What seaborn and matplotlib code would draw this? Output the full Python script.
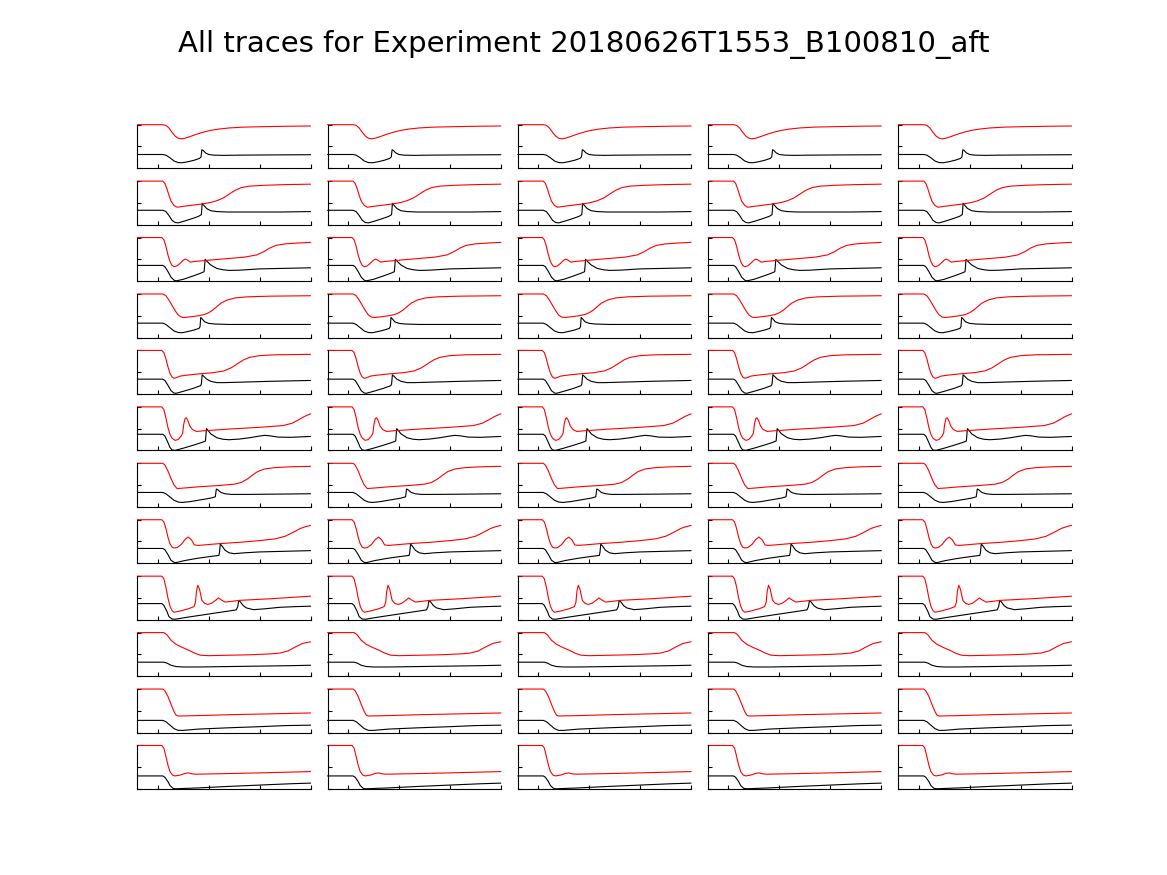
import matplotlib
matplotlib.use("Agg")
import matplotlib.pyplot as plt
import numpy as np
import pandas as pd
import seaborn as sns

sns.set_style("ticks")
plt.rcParams['font.family'] = ['DejaVu Sans']
plt.rcParams['text.color'] = 'black'

TITLE = "All traces for Experiment 20180626T1553_B100810_aft"
N_COLS = 5
X_TICKS = [0.2, 0.7, 1.2, 1.7]
Y_TICKS = [0, 1, 2]

# (time, value) keypoints, one list per row and trace
ROW1_RED = [(0,2),(0.25,2),(0.28,1.97),(0.31,1.85),(0.34,1.65),(0.37,1.48),(0.40,1.38),(0.43,1.35),(0.47,1.38),(0.52,1.46),(0.58,1.56),(0.65,1.66),(0.72,1.74),(0.80,1.80),(0.9,1.85),(1.05,1.89),(1.25,1.91),(1.5,1.93),(1.7,1.94)]
ROW1_BLACK = [(0,0.63),(0.25,0.63),(0.28,0.6),(0.32,0.48),(0.36,0.33),(0.40,0.26),(0.44,0.25),(0.50,0.3),(0.56,0.37),(0.61,0.45),(0.625,0.52),(0.633,0.85),(0.645,0.82),(0.67,0.7),(0.70,0.63),(0.75,0.6),(0.85,0.59),(1.0,0.6),(1.3,0.61),(1.7,0.62)]

ROW2_RED = [(0,2),(0.25,2),(0.27,1.9),(0.29,1.65),(0.31,1.35),(0.33,1.08),(0.36,0.88),(0.39,0.8),(0.45,0.84),(0.55,0.9),(0.65,0.96),(0.72,1.02),(0.78,1.1),(0.84,1.22),(0.90,1.4),(0.96,1.58),(1.02,1.7),(1.1,1.77),(1.25,1.81),(1.45,1.84),(1.7,1.86)]
ROW2_BLACK = [(0,0.66),(0.25,0.66),(0.28,0.6),(0.31,0.42),(0.34,0.2),(0.37,0.1),(0.40,0.08),(0.46,0.16),(0.54,0.28),(0.60,0.38),(0.628,0.46),(0.636,0.98),(0.65,0.9),(0.68,0.74),(0.72,0.64),(0.78,0.6),(0.88,0.58),(1.1,0.58),(1.4,0.58),(1.7,0.6)]

ROW3_RED = [(0,2),(0.24,2),(0.26,1.9),(0.28,1.6),(0.30,1.2),(0.32,0.9),(0.34,0.72),(0.36,0.66),(0.39,0.7),(0.42,0.82),(0.45,0.96),(0.47,1.01),(0.49,0.97),(0.52,0.87),(0.56,0.9),(0.7,0.96),(0.9,1.04),(1.05,1.1),(1.17,1.2),(1.24,1.35),(1.30,1.52),(1.36,1.64),(1.45,1.71),(1.58,1.75),(1.7,1.78)]
ROW3_BLACK = [(0,0.72),(0.25,0.72),(0.27,0.66),(0.30,0.44),(0.33,0.18),(0.36,0.04),(0.38,0.01),(0.45,0.08),(0.55,0.24),(0.62,0.36),(0.655,0.43),(0.665,1.0),(0.68,0.92),(0.72,0.74),(0.78,0.58),(0.84,0.52),(0.9,0.49),(1.0,0.5),(1.2,0.56),(1.4,0.58),(1.7,0.61)]

ROW4_RED = [(0,2),(0.25,2),(0.28,1.92),(0.31,1.72),(0.34,1.48),(0.37,1.24),(0.40,1.04),(0.43,0.94),(0.46,0.92),(0.52,0.95),(0.60,1.0),(0.66,1.06),(0.70,1.14),(0.74,1.26),(0.78,1.42),(0.82,1.58),(0.88,1.72),(0.96,1.82),(1.08,1.87),(1.3,1.9),(1.7,1.92)]
ROW4_BLACK = [(0,0.66),(0.25,0.66),(0.28,0.6),(0.32,0.45),(0.36,0.3),(0.40,0.23),(0.44,0.22),(0.50,0.28),(0.56,0.35),(0.605,0.42),(0.615,0.5),(0.622,0.92),(0.635,0.86),(0.66,0.72),(0.70,0.65),(0.76,0.62),(0.9,0.6),(1.2,0.6),(1.7,0.6)]

ROW5_RED = [(0,2),(0.24,2),(0.26,1.9),(0.28,1.62),(0.30,1.25),(0.32,0.95),(0.34,0.78),(0.36,0.72),(0.38,0.74),(0.42,0.82),(0.48,0.86),(0.6,0.92),(0.75,0.98),(0.85,1.06),(0.92,1.2),(0.98,1.38),(1.04,1.56),(1.1,1.68),(1.2,1.76),(1.35,1.8),(1.7,1.82)]
ROW5_BLACK = [(0,0.68),(0.25,0.68),(0.27,0.62),(0.30,0.4),(0.33,0.15),(0.36,0.04),(0.38,0.03),(0.45,0.12),(0.55,0.26),(0.62,0.38),(0.628,0.46),(0.636,0.88),(0.65,0.82),(0.68,0.68),(0.72,0.58),(0.78,0.52),(0.85,0.52),(1.0,0.54),(1.3,0.58),(1.7,0.62)]

ROW6_RED = [(0,2),(0.24,2),(0.26,1.88),(0.28,1.5),(0.30,1.05),(0.32,0.74),(0.34,0.56),(0.37,0.46),(0.40,0.5),(0.43,0.66),(0.445,0.8),(0.455,1.2),(0.468,1.46),(0.48,1.5),(0.495,1.38),(0.515,1.12),(0.54,0.96),(0.58,0.87),(0.65,0.9),(0.9,0.98),(1.2,1.06),(1.43,1.14),(1.52,1.25),(1.58,1.4),(1.64,1.56),(1.7,1.68)]
ROW6_BLACK = [(0,0.74),(0.25,0.74),(0.27,0.66),(0.30,0.36),(0.32,0.14),(0.34,0.02),(0.37,0.0),(0.45,0.1),(0.55,0.24),(0.63,0.36),(0.668,0.43),(0.678,1.0),(0.69,0.94),(0.72,0.76),(0.78,0.58),(0.84,0.51),(0.9,0.49),(1.0,0.52),(1.1,0.58),(1.2,0.66),(1.25,0.69),(1.3,0.67),(1.38,0.61),(1.5,0.6),(1.7,0.64)]

ROW7_RED = [(0,2),(0.25,2),(0.27,1.92),(0.30,1.65),(0.33,1.3),(0.36,1.0),(0.39,0.84),(0.45,0.86),(0.6,0.92),(0.8,0.98),(0.95,1.04),(1.02,1.12),(1.08,1.28),(1.13,1.46),(1.18,1.62),(1.25,1.74),(1.35,1.8),(1.5,1.84),(1.7,1.86)]
ROW7_BLACK = [(0,0.66),(0.25,0.66),(0.28,0.6),(0.32,0.45),(0.36,0.3),(0.40,0.22),(0.44,0.2),(0.52,0.24),(0.62,0.32),(0.72,0.4),(0.765,0.46),(0.775,0.82),(0.79,0.78),(0.82,0.66),(0.86,0.6),(0.92,0.57),(1.05,0.57),(1.3,0.58),(1.7,0.6)]

ROW8_RED = [(0,2),(0.24,2),(0.26,1.9),(0.28,1.6),(0.30,1.2),(0.32,0.9),(0.34,0.74),(0.36,0.7),(0.39,0.72),(0.43,0.86),(0.47,1.1),(0.50,1.2),(0.53,1.08),(0.56,0.84),(0.60,0.82),(0.8,0.9),(1.0,0.96),(1.2,1.04),(1.35,1.12),(1.45,1.24),(1.52,1.4),(1.6,1.6),(1.65,1.68),(1.7,1.74)]
ROW8_BLACK = [(0,0.68),(0.25,0.68),(0.27,0.62),(0.30,0.4),(0.33,0.14),(0.36,0.04),(0.38,0.03),(0.46,0.12),(0.58,0.22),(0.70,0.3),(0.80,0.36),(0.806,0.5),(0.814,0.88),(0.83,0.8),(0.86,0.6),(0.90,0.48),(0.95,0.44),(1.05,0.48),(1.2,0.52),(1.45,0.55),(1.7,0.58)]

ROW9_RED = [(0,2),(0.24,2),(0.26,1.88),(0.28,1.5),(0.30,1.0),(0.32,0.62),(0.34,0.42),(0.36,0.34),(0.42,0.4),(0.5,0.5),(0.555,0.6),(0.57,0.8),(0.58,1.3),(0.593,1.58),(0.61,1.4),(0.633,0.89),(0.66,0.75),(0.69,0.7),(0.73,0.76),(0.77,0.9),(0.796,1.0),(0.82,0.92),(0.86,0.81),(0.92,0.84),(1.01,0.89),(1.3,0.96),(1.5,1.02),(1.7,1.08)]
ROW9_BLACK = [(0,0.74),(0.24,0.74),(0.26,0.66),(0.29,0.38),(0.31,0.14),(0.34,0.03),(0.37,0.02),(0.5,0.12),(0.7,0.26),(0.9,0.4),(0.97,0.45),(0.985,0.6),(0.995,0.89),(1.01,0.82),(1.04,0.64),(1.07,0.54),(1.14,0.46),(1.25,0.5),(1.4,0.57),(1.55,0.6),(1.7,0.62)]

ROW10_RED = [(0,2),(0.26,2),(0.29,1.9),(0.33,1.65),(0.38,1.46),(0.44,1.32),(0.5,1.2),(0.56,1.06),(0.62,0.96),(0.7,0.94),(0.9,0.96),(1.1,0.98),(1.3,1.02),(1.4,1.06),(1.48,1.16),(1.55,1.34),(1.62,1.5),(1.7,1.58)]
ROW10_BLACK = [(0,0.64),(0.26,0.64),(0.29,0.6),(0.33,0.5),(0.38,0.44),(0.45,0.42),(0.6,0.42),(0.9,0.44),(1.2,0.46),(1.5,0.48),(1.7,0.5)]

ROW11_RED = [(0,2),(0.25,2),(0.27,1.92),(0.30,1.66),(0.33,1.3),(0.36,0.96),(0.38,0.8),(0.40,0.76),(0.6,0.78),(0.9,0.82),(1.3,0.86),(1.7,0.9)]
ROW11_BLACK = [(0,0.56),(0.25,0.56),(0.28,0.5),(0.32,0.34),(0.36,0.18),(0.40,0.1),(0.45,0.1),(0.6,0.16),(0.9,0.22),(1.2,0.27),(1.45,0.32),(1.7,0.34)]

ROW12_RED = [(0,2),(0.24,2),(0.26,1.88),(0.28,1.5),(0.30,1.1),(0.32,0.8),(0.345,0.64),(0.37,0.6),(0.42,0.64),(0.47,0.72),(0.50,0.74),(0.53,0.7),(0.57,0.68),(0.8,0.7),(1.2,0.74),(1.7,0.8)]
ROW12_BLACK = [(0,0.6),(0.25,0.6),(0.27,0.54),(0.30,0.34),(0.32,0.16),(0.35,0.03),(0.38,0.01),(0.6,0.05),(0.9,0.12),(1.2,0.18),(1.5,0.24),(1.7,0.27)]

ROWS = [
    (ROW1_RED, ROW1_BLACK), (ROW2_RED, ROW2_BLACK), (ROW3_RED, ROW3_BLACK),
    (ROW4_RED, ROW4_BLACK), (ROW5_RED, ROW5_BLACK), (ROW6_RED, ROW6_BLACK),
    (ROW7_RED, ROW7_BLACK), (ROW8_RED, ROW8_BLACK), (ROW9_RED, ROW9_BLACK),
    (ROW10_RED, ROW10_BLACK), (ROW11_RED, ROW11_BLACK), (ROW12_RED, ROW12_BLACK),
]

fig = plt.figure(figsize=(11.67, 8.75), dpi=100)
gs = fig.add_gridspec(len(ROWS), N_COLS, left=0.1177, right=0.9182,
                      top=0.8575, bottom=0.0983, wspace=0.098, hspace=0.297)

for r, (red, blk) in enumerate(ROWS):
    df_red = pd.DataFrame(red, columns=["t", "v"])
    df_blk = pd.DataFrame(blk, columns=["t", "v"])
    for c in range(N_COLS):
        ax = fig.add_subplot(gs[r, c])
        sns.lineplot(data=df_blk, x="t", y="v", ax=ax, color="black",
                     linewidth=0.8, estimator=None, sort=False, clip_on=False)
        sns.lineplot(data=df_red, x="t", y="v", ax=ax, color="red",
                     linewidth=0.8, estimator=None, sort=False, clip_on=False)
        ax.set_xlim(0, 1.7)
        ax.set_ylim(0, 2)
        ax.set_xticks(X_TICKS)
        ax.set_yticks(Y_TICKS)
        ax.set_xticklabels([])
        ax.set_yticklabels([])
        ax.set_xlabel("")
        ax.set_ylabel("")
        ax.tick_params(direction="in", length=3, width=0.8, colors="black")
        for s in ("top", "right"):
            ax.spines[s].set_visible(False)
        for s in ("left", "bottom"):
            ax.spines[s].set_linewidth(0.8)
            ax.spines[s].set_color("black")

fig.suptitle(TITLE, y=0.949, va="center", fontsize=21, color="black")
fig.savefig("out.png", dpi=100, facecolor="white")
